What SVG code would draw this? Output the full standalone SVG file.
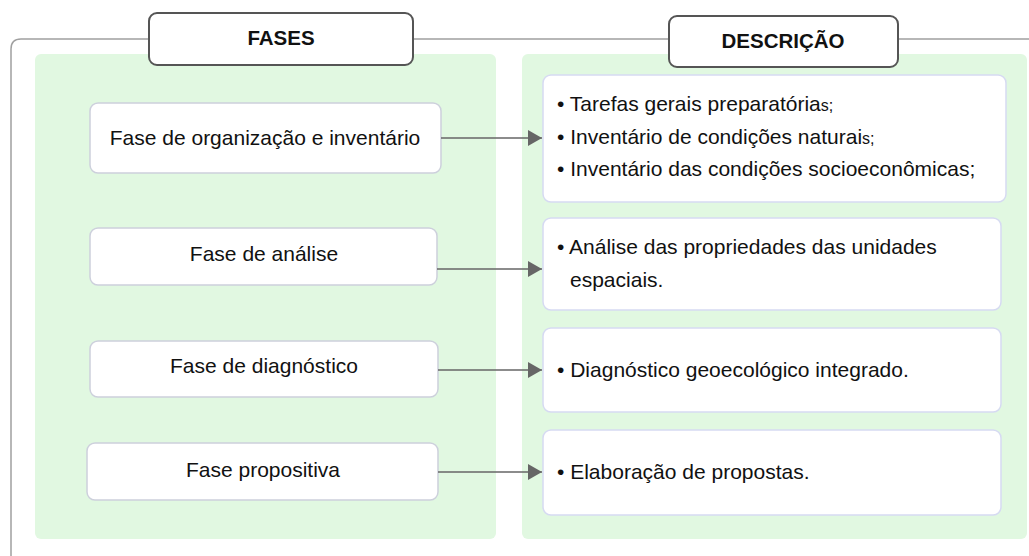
<svg xmlns="http://www.w3.org/2000/svg" width="1029" height="556" viewBox="0 0 1029 556">
<style>
.frame{fill:none;stroke:#a0a0a0;stroke-width:1.5}
.panel{fill:#e1f8e1}
.hdr{fill:#fff;stroke:#555;stroke-width:2}
.hdrt{font-family:"Liberation Sans",Arial,sans-serif;font-weight:bold;font-size:20.5px;fill:#111;text-anchor:middle}
.lbox{fill:#fff;stroke:#cdd0dc;stroke-width:1.5}
.rbox{fill:#fff;stroke:#d6daf2;stroke-width:1.5}
.t{font-family:"Liberation Sans",Arial,sans-serif;font-size:21px;fill:#111}
.c{text-anchor:middle}
.sm{font-size:16px}
.conn{stroke:#666;stroke-width:1.5;fill:none}
</style>
<defs>
<marker id="ah" markerWidth="15" markerHeight="18" refX="14" refY="8" orient="auto" markerUnits="userSpaceOnUse">
<path d="M0,0 L14,8 L0,16 Z" fill="#666"/>
</marker>
</defs>
<path class="frame" d="M1029,39 L21,39 Q11,39 11,49 L11,560"/>
<rect class="panel" x="35" y="54" width="461" height="485" rx="6"/>
<rect class="panel" x="522" y="54" width="505" height="485" rx="6"/>
<g id="hdr-fases">
<rect class="hdr" x="149" y="13" width="264" height="52" rx="8"/>
<text class="hdrt" x="281" y="45">FASES</text>
</g>
<g id="hdr-descricao">
<rect class="hdr" x="669" y="16" width="229" height="51" rx="8"/>
<text class="hdrt" x="783" y="48">DESCRIÇÃO</text>
</g>
<g id="f1">
<rect class="lbox" x="90" y="103" width="351" height="70" rx="8"/>
<text class="t c" x="265" y="145">Fase de organização e inventário</text>
</g>
<g id="f2">
<rect class="lbox" x="90" y="228" width="347" height="57" rx="8"/>
<text class="t c" x="264" y="261">Fase de análise</text>
</g>
<g id="f3">
<rect class="lbox" x="90" y="341" width="348" height="56" rx="8"/>
<text class="t c" x="264" y="373">Fase de diagnóstico</text>
</g>
<g id="f4">
<rect class="lbox" x="87" y="443" width="351" height="57" rx="8"/>
<text class="t c" x="263" y="477">Fase propositiva</text>
</g>
<g id="d1">
<rect class="rbox" x="543" y="75" width="463" height="127" rx="8"/>
<text class="t" x="557" y="111">• Tarefas gerais preparatória<tspan class="sm">s;</tspan></text>
<text class="t" x="557" y="144">• Inventário de condições naturai<tspan class="sm">s;</tspan></text>
<text class="t" x="557" y="176">• Inventário das condições socioeconômicas;</text>
</g>
<g id="d2">
<rect class="rbox" x="543" y="218" width="458" height="92" rx="8"/>
<text class="t" x="557" y="254">• Análise das propriedades das unidades</text>
<text class="t" x="570" y="287">espaciais.</text>
</g>
<g id="d3">
<rect class="rbox" x="543" y="328" width="458" height="84" rx="8"/>
<text class="t" x="557" y="377">• Diagnóstico geoecológico integrado.</text>
</g>
<g id="d4">
<rect class="rbox" x="543" y="430" width="458" height="85" rx="8"/>
<text class="t" x="557" y="479">• Elaboração de propostas.</text>
</g>
<g id="connectors">
<line class="conn" x1="441" y1="138" x2="542" y2="138" marker-end="url(#ah)"/>
<line class="conn" x1="437" y1="269" x2="542" y2="269" marker-end="url(#ah)"/>
<line class="conn" x1="438" y1="370" x2="542" y2="370" marker-end="url(#ah)"/>
<line class="conn" x1="438" y1="472" x2="542" y2="472" marker-end="url(#ah)"/>
</g>
</svg>
